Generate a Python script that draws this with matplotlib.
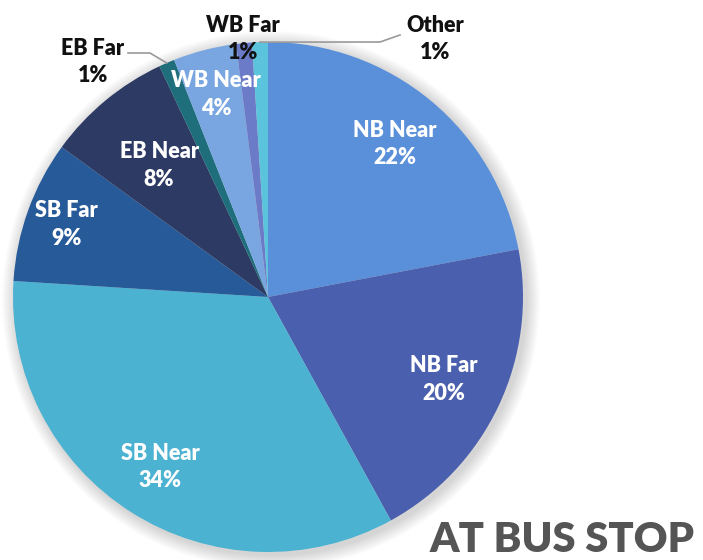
import matplotlib.pyplot as plt
import numpy as np
from matplotlib.patches import Circle

labels = ['NB Near', 'NB Far', 'SB Near', 'SB Far', 'EB Near', 'EB Far', 'WB Near', 'WB Far', 'Other']
shares = [22, 20, 34, 9, 8, 1, 4, 1, 1]
colors = ['#5A8FD9', '#4A5FAD', '#4BB2D2', '#275A98', '#2D3A64', '#1E6E7B', '#79A6E1', '#6C7BC8', '#5CC3DD']

# radial position of label as fraction of radius (inside labels)
label_r = [0.78, 0.76, 0.79, 0.84, 0.67, None, 0.82, None, None]
# outside labels with text position in pixels
outside = {'EB Far': (93, 498), 'WB Far': (243, 521), 'Other': (435, 521)}

plt.rcParams['font.family'] = 'Lato'

fig = plt.figure(figsize=(7.03, 5.60), dpi=100)
ax = fig.add_axes([0, 0, 1, 1])

cx, cy, R = 268, 263, 255

# soft shadow
for k in range(14):
    ax.add_patch(Circle((cx + 3, cy - 3), R + 14 - k, color='#000000', alpha=0.012, lw=0, zorder=0))

wedges, _ = ax.pie(shares, colors=colors, startangle=90, counterclock=False,
                   center=(cx, cy), radius=R, frame=True,
                   wedgeprops=dict(linewidth=0))
ax.set_xlim(0, 703)
ax.set_ylim(0, 560)
ax.set_aspect('equal')
ax.axis('off')

for w, lab, s, fr in zip(wedges, labels, shares, label_r):
    mid = np.deg2rad((w.theta1 + w.theta2) / 2)
    txt = f'{lab}\n{s}%'
    if fr is not None:
        x = cx + fr * R * np.cos(mid)
        y = cy + fr * R * np.sin(mid)
        ax.text(x, y, txt, ha='center', va='center', color='white',
                fontsize=15.5, fontweight=800, linespacing=1.38)
    else:
        tx, ty = outside[lab]
        ax.text(tx, ty, txt, ha='center', va='center', color='#111111',
                fontsize=15.5, fontweight=800, linespacing=1.38, zorder=5)

# leader lines
m5 = np.deg2rad((wedges[5].theta1 + wedges[5].theta2) / 2)
ax.plot([128, 150, cx + R * np.cos(m5)], [507, 507, cy + R * np.sin(m5)],
        color='#9a9a9a', lw=1.2, zorder=4)
m8 = np.deg2rad((wedges[8].theta1 + wedges[8].theta2) / 2)
ax.plot([400, 380, cx + R * np.cos(m8)], [525, 518, cy + R * np.sin(m8)],
        color='#9a9a9a', lw=1.2, zorder=4)

ax.text(695, 8, 'AT BUS STOP', ha='right', va='baseline', color='#555555',
        fontsize=30, fontweight=800)

fig.savefig('out.png', dpi=100)
